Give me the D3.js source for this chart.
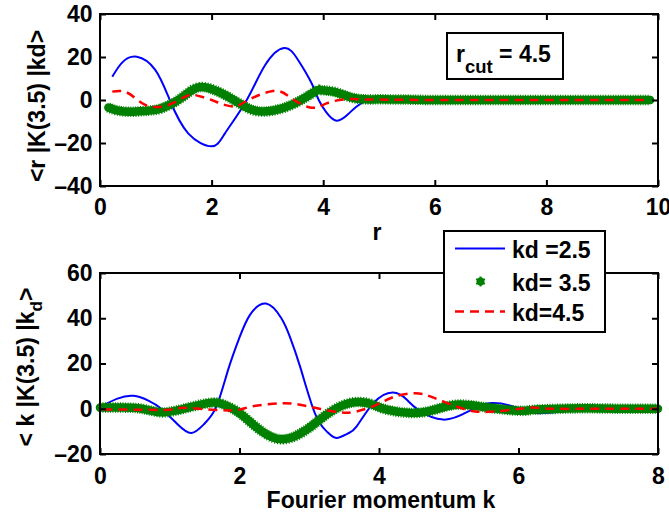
<!DOCTYPE html>
<html>
<head>
<meta charset="utf-8">
<script src="https://cdn.jsdelivr.net/npm/d3@7"></script>
<style>
  body { margin: 0; background: #fff; }
  text { font-family: "Liberation Sans", Arial, sans-serif; font-weight: bold; }
</style>
</head>
<body>
<div id="chart"></div>
<script>
// Top panel data: <r|K(3.5)|kd>
const topBlueR = [0.22, 0.4, 0.66, 0.99, 1.25, 1.58, 2.0, 2.24, 2.63, 2.96, 3.3, 3.55, 3.79, 3.92, 4.05, 4.24, 4.45, 4.6, 4.75, 5.0, 6, 7, 8, 9, 9.85];
const topBlueV = [10.8, 17.5, 20.1, 14, 0, -15.5, -21.5, -15.5, 0, 16.3, 24.2, 18.6, 7.9, 0, -5.5, -9.6, -6.5, -3, -0.5, 0, 0, 0, 0, 0, 0];

const topGreenR = [0.15, 0.3, 0.55, 0.85, 1.1, 1.46, 1.8, 2.24, 2.6, 2.93, 3.43, 3.85, 3.97, 4.2, 4.5, 4.75, 5.0, 5.5, 6, 7, 8, 9, 9.86];
const topGreenV = [-3.5, -4.8, -5.5, -5, -3.9, 1.0, 6, 2.3, -3.1, -5.4, -2.3, 3.9, 4.6, 3.8, 1.2, 0.3, 0.3, 0.2, 0, 0, 0, 0, 0];

const topRedR = [0.22, 0.36, 0.55, 0.81, 1.1, 1.3, 1.52, 1.7, 2.0, 2.2, 2.42, 2.6, 3.1, 3.43, 3.79, 4.06, 4.39, 4.7, 5, 6, 7, 8, 9, 9.8];
const topRedV = [3.9, 4.2, 2.5, -2.3, -3.1, -1.5, 1.5, 2.3, 0, -2, -3.1, -0.8, 4.2, 0.8, -3.6, -1.6, 0.3, 0.3, 0.2, 0, 0, 0, 0, 0];

// Bottom panel data: <k|K(3.5)|kd>
const botBlueK = [0.05, 0.25, 0.48, 0.7, 0.88, 1.1, 1.31, 1.5, 1.67, 1.84, 2.0, 2.15, 2.38, 2.6, 2.72, 2.87, 3.08, 3.25, 3.39, 3.55, 3.68, 3.92, 4.2, 4.4, 4.56, 4.92, 5.28, 5.61, 6.0, 6.24, 6.62, 7.0, 7.5, 8.0];
const botBlueV = [1.5, 4.5, 5.7, 3.5, 0, -6.5, -10.7, -6.5, 1, 17.5, 31.5, 41.5, 46.5, 40, 32, 18.5, -1.9, -10, -12.9, -11, -7.8, 2.5, 7.2, 4, -0.4, -4.8, -1.2, 2.5, 0.3, -1.9, -1.2, 0, 0, 0];

const botGreenK = [0.0, 0.3, 0.6, 0.88, 1.2, 1.6, 1.8, 2.0, 2.29, 2.63, 2.96, 3.15, 3.44, 3.73, 3.94, 4.11, 4.47, 4.8, 5.1, 5.4, 5.61, 6.0, 6.2, 6.6, 7, 7.5, 8];
const botGreenV = [0.5, 0.5, 0, -1.6, 0, 2.7, 1.5, -1.9, -9.3, -13.5, -9.3, -4.8, 1.0, 3, 1.5, -0.4, -1.9, -0.4, 1.8, 1.2, 0.3, -0.9, -0.5, 0, 0.2, 0, 0];

const botRedK = [0.05, 0.5, 1.0, 1.2, 1.7, 2.0, 2.17, 2.48, 2.77, 3.1, 3.44, 3.68, 3.97, 4.2, 4.52, 4.8, 5.11, 5.38, 5.66, 6.0, 6.2, 6.5, 7, 7.5, 8];
const botRedV = [-0.3, -0.4, -0.4, 0.4, -0.6, -0.4, 1, 2.2, 2.2, 0.3, -1.6, -1.2, 1.8, 5.1, 6.9, 4.7, 1, -1.2, -1.2, -0.1, 0.5, 0, 0, 0, 0];

const topXTicks = [0, 2, 4, 6, 8, 10];
const topYTicks = [-40, -20, 0, 20, 40];
const botXTicks = [0, 2, 4, 6, 8];
const botYTicks = [-20, 0, 20, 40, 60];

const legendLabels = ["kd =2.5", "kd= 3.5", "kd=4.5"];

const W = 669, H = 519;
const blue = "#0000ff", green = "#008000", red = "#ff0000";

const svg = d3.select("#chart").append("svg")
    .attr("width", W)
    .attr("height", H);

svg.append("rect").attr("width", W).attr("height", H).attr("fill", "#fff");

function fmt(d) { return d < 0 ? "\u2013" + Math.abs(d) : String(d); }

function zip(xs, ys) { return xs.map((x, i) => [x, ys[i]]); }

function panel(opt) {
    const x = d3.scaleLinear().domain(opt.xDomain).range([100, 658]);
    const y = d3.scaleLinear().domain(opt.yDomain).range([opt.bottom, opt.top]);
    const g = svg.append("g");

    const line = d3.line().x(d => x(d[0])).y(d => y(d[1])).curve(d3.curveNatural);

    // blue solid
    g.append("path").datum(zip(opt.blue[0], opt.blue[1]))
        .attr("d", line).attr("fill", "none").attr("stroke", blue).attr("stroke-width", 2);

    // green star markers (dense band)
    const gd = zip(opt.green[0], opt.green[1]);
    g.append("path").datum(gd)
        .attr("d", line).attr("fill", "none").attr("stroke", green)
        .attr("stroke-width", 8.5).attr("stroke-linecap", "round").attr("stroke-linejoin", "round");
    g.append("path").datum(gd)
        .attr("d", line).attr("fill", "none").attr("stroke", green)
        .attr("stroke-width", 10.5).attr("stroke-dasharray", "1 1.5");

    // red dashed
    g.append("path").datum(zip(opt.red[0], opt.red[1]))
        .attr("d", line).attr("fill", "none").attr("stroke", red)
        .attr("stroke-width", 2.5).attr("stroke-dasharray", "9 6");

    // axes, ticks pointing inward on all four sides
    const ax = [
        [d3.axisBottom(x).tickValues(opt.xTicks).tickFormat(fmt).tickSize(-6).tickPadding(opt.xPad), `translate(0,${opt.bottom})`],
        [d3.axisTop(x).tickValues(opt.xTicks).tickFormat("").tickSize(-6), `translate(0,${opt.top})`],
        [d3.axisLeft(y).tickValues(opt.yTicks).tickFormat(fmt).tickSize(-6).tickPadding(7.5), "translate(100,0)"],
        [d3.axisRight(y).tickValues(opt.yTicks).tickFormat("").tickSize(-6), "translate(658,0)"]
    ];
    ax.forEach(([a, t]) => {
        const ag = g.append("g").attr("transform", t).call(a.tickSizeOuter(0));
        ag.select(".domain").remove();
        ag.selectAll("line").attr("stroke", "#000").attr("stroke-width", 2);
        ag.selectAll("text").attr("fill", "#000")
            .style("font-family", "'Liberation Sans', Arial, sans-serif")
            .style("font-weight", "bold").style("font-size", "23px");
    });

    g.append("rect")
        .attr("x", 100).attr("y", opt.top)
        .attr("width", 558).attr("height", opt.bottom - opt.top)
        .attr("fill", "none").attr("stroke", "#000").attr("stroke-width", 2);

    return g;
}

panel({
    xDomain: [0, 10], yDomain: [-40, 40], top: 14, bottom: 186, xPad: 12.5,
    xTicks: topXTicks, yTicks: topYTicks,
    blue: [topBlueR, topBlueV], green: [topGreenR, topGreenV], red: [topRedR, topRedV]
});

panel({
    xDomain: [0, 8], yDomain: [-20, 60], top: 273, bottom: 454, xPad: 13.5,
    xTicks: botXTicks, yTicks: botYTicks,
    blue: [botBlueK, botBlueV], green: [botGreenK, botGreenV], red: [botRedK, botRedV]
});

// axis labels
svg.append("text").attr("x", 377).attr("y", 239.5).attr("text-anchor", "middle")
    .style("font-size", "23px").text("r");
svg.append("text").attr("x", 381).attr("y", 507.5).attr("text-anchor", "middle")
    .style("font-size", "23px").text("Fourier momentum k");

svg.append("text").attr("transform", "translate(45,106) rotate(-90)")
    .attr("text-anchor", "middle").style("font-size", "23px")
    .text("<r |K(3.5) |kd>");

const yl2 = svg.append("text").attr("transform", "translate(34,367) rotate(-90)")
    .attr("text-anchor", "middle").style("font-size", "23px");
yl2.append("tspan").text("< k |K(3.5) |k");
yl2.append("tspan").attr("dy", 8).style("font-size", "17px").text("d");
yl2.append("tspan").attr("dy", -8).text(">");

// r_cut annotation
svg.append("rect").attr("x", 447).attr("y", 33).attr("width", 116).attr("height", 46)
    .attr("fill", "#fff").attr("stroke", "#000").attr("stroke-width", 2);
const rc = svg.append("text").attr("x", 456).attr("y", 61.5).style("font-size", "23px");
rc.append("tspan").text("r");
rc.append("tspan").attr("dy", 11).style("font-size", "18.5px").text("cut");
rc.append("tspan").attr("dy", -11).text(" = 4.5");

// legend
const lg = svg.append("g");
lg.append("rect").attr("x", 444).attr("y", 231).attr("width", 161).attr("height", 101)
    .attr("fill", "#fff").attr("stroke", "#000").attr("stroke-width", 2);
const rowY = [248.5, 281.5, 311.5];
lg.append("line").attr("x1", 455).attr("x2", 505).attr("y1", rowY[0]).attr("y2", rowY[0])
    .attr("stroke", blue).attr("stroke-width", 2);
lg.append("circle").attr("cx", 480.5).attr("cy", rowY[1]).attr("r", 4).attr("fill", green);
lg.append("path").attr("transform", `translate(480.5,${rowY[1]})`)
    .attr("d", d3.symbol(d3.symbolAsterisk, 70)()).attr("fill", "none")
    .attr("stroke", green).attr("stroke-width", 2);
lg.append("line").attr("x1", 455).attr("x2", 505).attr("y1", rowY[2]).attr("y2", rowY[2])
    .attr("stroke", red).attr("stroke-width", 2.5).attr("stroke-dasharray", "9 6");
lg.selectAll("text.lab").data(legendLabels).enter().append("text")
    .attr("class", "lab").attr("x", 512).attr("y", (d, i) => rowY[i] + 9.5)
    .style("font-size", "23px").text(d => d);
</script>
</body>
</html>
